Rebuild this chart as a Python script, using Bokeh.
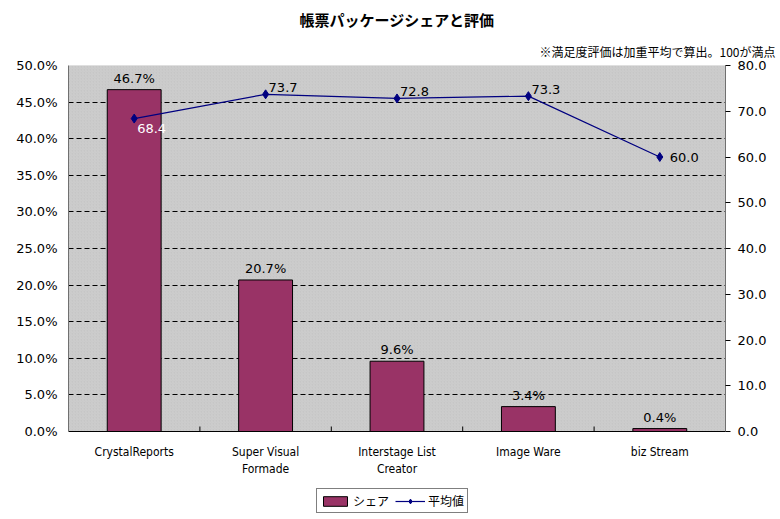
from bokeh.plotting import figure
from bokeh.models import (Range1d, LinearAxis, FixedTicker, NumeralTickFormatter, Span,
                          ColumnDataSource, Legend, LegendItem, Title, BoxAnnotation, LabelSet)
from bokeh.embed import file_html
from bokeh.resources import INLINE
from bokeh.core.properties import value

categories = ["CrystalReports", "Super Visual\nFormade", "Interstage List\nCreator", "Image Ware", "biz Stream"]
share = [0.467, 0.207, 0.096, 0.034, 0.004]
share_labels = ["46.7%", "20.7%", "9.6%", "3.4%", "0.4%"]
rating = [68.4, 73.7, 72.8, 73.3, 60.0]
rating_labels = ["68.4", "73.7", "72.8", "73.3", "60.0"]
share_max = 0.5
rating_max = 80

# label styling (offsets in px) for rating labels
r_dx = [3, 3, 3, 3, 10]
r_dy = [-10, 7, 7, 7, 0]
r_color = ["white", "black", "black", "black", "black"]

xs = list(range(len(categories)))
cat1 = [c.split("\n")[0] for c in categories]
cat2 = [(c.split("\n") + [""])[1] for c in categories]
JP = "Noto Sans CJK JP"
NUM = "DejaVu Sans"

# frame extends below the zero line to hold the category labels and the legend
FRAME_H = 450
PLOT_H = 366
ext = (FRAME_H - PLOT_H) / PLOT_H

p = figure(frame_width=657, frame_height=FRAME_H, output_backend="svg", toolbar_location=None,
           x_range=Range1d(-0.5, len(categories) - 0.5),
           y_range=Range1d(-share_max * ext, share_max),
           min_border_left=68, min_border_right=52, min_border_bottom=0, min_border_top=4)
p.title = None
p.extra_y_ranges = {"r": Range1d(-rating_max * ext, rating_max)}

sub = Title(text="※満足度評価は加重平均で算出。100が満点", align="right", text_font=JP,
            text_font_size="12px", text_font_style="normal", text_color="black",
            offset=-50, standoff=11)
main = Title(text="帳票パッケージシェアと評価", align="center", text_font=JP,
             text_font_size="15px", text_font_style="bold", text_color="black", standoff=12)
p.add_layout(sub, "above")
p.add_layout(main, "above")

p.background_fill_color = "white"
p.border_fill_color = "white"
p.outline_line_color = None
p.add_layout(BoxAnnotation(bottom=0, top=share_max, fill_color="#c6c6c6", fill_alpha=1,
                           line_color="#707070", line_width=1, level="image"))
p.add_layout(BoxAnnotation(bottom=0, top=share_max, fill_alpha=0, line_alpha=0,
                           hatch_pattern="/", hatch_scale=3, hatch_color="white",
                           hatch_alpha=0.25, hatch_weight=0.6, level="image"))

p.xgrid.visible = False
p.ygrid.ticker = FixedTicker(ticks=[0.05 * i for i in range(1, 10)])
p.ygrid.grid_line_color = "black"
p.ygrid.grid_line_dash = "5 3"
p.ygrid.grid_line_width = 1

src = ColumnDataSource(dict(x=xs, share=share, sl=share_labels, r=rating, rl=rating_labels,
                            dx=r_dx, dy=r_dy, col=r_color, c1=cat1, c2=cat2))
bars = p.vbar(x="x", top="share", width=0.41, source=src, fill_color="#993366",
              line_color="black", line_width=1)
line = p.line(x="x", y="r", source=src, y_range_name="r", line_color="#000080", line_width=1.2)
pts = p.scatter(x="x", y="r", source=src, y_range_name="r", marker="diamond", size=9,
                fill_color="#000080", line_color="#000080")

p.add_layout(LabelSet(x="x", y="share", text="sl", source=src, y_offset=4, text_align="center",
                      text_baseline="bottom", text_color="black",
                      text_font=value(NUM), text_font_size="13px"))
p.add_layout(LabelSet(x="x", y="r", text="rl", source=src, y_range_name="r", x_offset="dx",
                      y_offset="dy", text_align="left", text_baseline="middle", text_color="col",
                      text_font=value(NUM), text_font_size="13px"))

# category axis: zero line, boundary ticks, two-line labels
p.xaxis.visible = False
p.add_layout(Span(location=0, dimension="width", line_color="black", line_width=1))
bounds = [i + 0.5 for i in xs[:-1]]
p.segment(x0=bounds, y0=[0] * len(bounds), x1=bounds, y1=[share_max * 5 / PLOT_H] * len(bounds),
          line_color="black", line_width=1)
p.add_layout(LabelSet(x="x", y=0, text="c1", source=src, y_offset=-20, text_align="center",
                      text_baseline="middle", text_color="black",
                      text_font=value("DejaVu Sans Condensed"), text_font_size="12px"))
p.add_layout(LabelSet(x="x", y=0, text="c2", source=src, y_offset=-37, text_align="center",
                      text_baseline="middle", text_color="black",
                      text_font=value("DejaVu Sans Condensed"), text_font_size="12px"))

ya = p.yaxis[0]
ya.ticker = FixedTicker(ticks=[0.05 * i for i in range(11)])
ya.formatter = NumeralTickFormatter(format="0.0%")
ya.bounds = (0, share_max)
ya.major_tick_out = 0
ya.major_tick_in = 0
ya.minor_tick_line_color = None
ya.axis_line_color = "#707070"
ya.major_label_standoff = 11
ya.major_label_text_font = NUM
ya.major_label_text_font_size = "13px"
ya.major_label_text_color = "black"

ra = LinearAxis(y_range_name="r", ticker=FixedTicker(ticks=[10 * i for i in range(9)]),
                formatter=NumeralTickFormatter(format="0.0"), bounds=(0, rating_max))
ra.major_tick_out = 5
ra.major_tick_in = 0
ra.minor_tick_line_color = None
ra.axis_line_color = "#707070"
ra.major_label_standoff = 7
ra.major_label_text_font = NUM
ra.major_label_text_font_size = "13px"
ra.major_label_text_color = "black"
p.add_layout(ra, "right")

legend = Legend(items=[LegendItem(label="シェア", renderers=[bars]),
                       LegendItem(label="平均値", renderers=[line, pts])],
                orientation="horizontal", location=(248, 2), border_line_color="black",
                label_text_font=JP, label_text_font_size="12px", label_text_color="black",
                glyph_width=30, glyph_height=12,
                padding=3, spacing=6, margin=0, label_standoff=3, label_height=14,
                background_fill_color="white", background_fill_alpha=1)
p.add_layout(legend, "center")

open("out.html", "w").write(file_html(p, INLINE))
